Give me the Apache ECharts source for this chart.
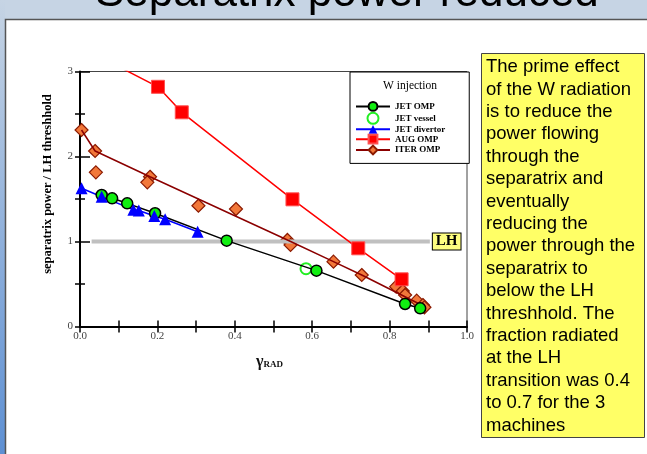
<!DOCTYPE html>
<html>
<head>
<meta charset="utf-8">
<title>Separatrix power reduced</title>
<script src="https://cdn.jsdelivr.net/npm/echarts@6/dist/echarts.min.js"></script>
<style>
html,body{margin:0;padding:0;background:#fff}
#chart{width:647px;height:454px}
</style>
</head>
<body>
<div id="chart"></div>
<script>
// values (x = gamma_RAD, y = separatrix power / LH threshold)
var augX = [0.0, 0.2015, 0.263, 0.549, 0.719, 0.831];
var augY = [3.29, 2.82, 2.52, 1.496, 0.92, 0.555];

var jetOmpX = [0.056, 0.083, 0.122, 0.194, 0.379, 0.611, 0.840, 0.879];
var jetOmpY = [1.547, 1.508, 1.449, 1.332, 1.01, 0.657, 0.265, 0.214];

var jetVesselX = [0.584];
var jetVesselY = [0.68];

var jetDivX = [0.004, 0.056, 0.138, 0.152, 0.192, 0.220, 0.304];
var jetDivY = [1.626, 1.527, 1.375, 1.365, 1.30, 1.261, 1.115];

var iterX = [0.004, 0.039, 0.041, 0.181, 0.174, 0.306, 0.403, 0.536, 0.544, 0.655, 0.728, 0.817, 0.834, 0.840, 0.870, 0.886, 0.890];
var iterY = [2.312, 2.065, 1.814, 1.762, 1.696, 1.421, 1.382, 1.018, 0.959, 0.763, 0.606, 0.469, 0.418, 0.371, 0.304, 0.253, 0.226];

// ITER trend line
var iterFitX = [0.004, 0.039, 0.181, 0.536, 0.655, 0.728, 0.89];
var iterFitY = [2.312, 2.065, 1.762, 1.018, 0.763, 0.606, 0.235];

// LH threshold line
var lhX = [0.03, 0.904];
var lhY = [1, 1];

var legendNames = ['JET OMP', 'JET vessel', 'JET divertor', 'AUG OMP', 'ITER OMP'];
var xTickLabels = ['0.0', '0.2', '0.4', '0.6', '0.8', '1.0'];
var yTickLabels = ['0', '1', '2', '3'];

var slideTitle = 'Separatrix power reduced';
var noteLines = [
    'The prime effect',
    'of the W radiation',
    'is to reduce the',
    'power flowing',
    'through the',
    'separatrix and',
    'eventually',
    'reducing the',
    'power through the',
    'separatrix to',
    'below the LH',
    'threshhold. The',
    'fraction radiated',
    'at the LH',
    'transition was 0.4',
    'to 0.7 for the 3',
    'machines'
];

function pairs(xs, ys) {
    var out = [];
    for (var i = 0; i < xs.length; i++) {
        out.push([xs[i], ys[i]]);
    }
    return out;
}

var serif = 'Liberation Serif, Times New Roman, serif';
var sans = 'Liberation Sans, Arial, sans-serif';

var myChart = echarts.init(document.getElementById('chart'));
var option = {
    animation: false,
    backgroundColor: '#ffffff',
    graphic: [
        {
            type: 'rect', z: -10, silent: true,
            shape: {x: 0, y: 0, width: 647, height: 19},
            style: {fill: '#c6d4e4'}
        },
        {
            type: 'rect', z: -10, silent: true,
            shape: {x: 0, y: 0, width: 5, height: 454},
            style: {
                fill: new echarts.graphic.LinearGradient(0, 0, 0, 1, [
                    {offset: 0, color: '#c6d4e4'},
                    {offset: 1, color: '#5e90d3'}
                ])
            }
        },
        {
            type: 'polyline', z: -9, silent: true,
            shape: {points: [[5.5, 454], [5.5, 19.5], [647, 19.5]]},
            style: {stroke: '#555', lineWidth: 1.5, fill: null}
        },
        {
            type: 'text', silent: true,
            x: 95, y: -6,
            style: {
                text: slideTitle,
                font: '44px ' + sans,
                fill: '#000',
                verticalAlign: 'middle'
            }
        },
        {
            type: 'rect', silent: true,
            shape: {x: 481.5, y: 53.5, width: 163, height: 384},
            style: {fill: '#ffff66', stroke: '#444', lineWidth: 1}
        },
        {
            type: 'text', silent: true,
            x: 486, y: 56,
            style: {
                text: noteLines.join('\n'),
                font: '18.5px ' + sans,
                lineHeight: 22.4,
                fill: '#000',
                verticalAlign: 'top'
            }
        },
        {
            type: 'text', silent: true, z: 10,
            x: 410, y: 86,
            style: {
                text: 'W injection',
                font: '11.5px ' + serif,
                fill: '#000',
                align: 'center',
                verticalAlign: 'middle'
            }
        }
    ],
    legend: {
        data: legendNames,
        orient: 'vertical',
        left: 350,
        top: 72,
        itemWidth: 34,
        itemHeight: 11,
        itemGap: 0,
        padding: [29, 24, 8, 5],
        backgroundColor: '#fff',
        borderColor: '#000',
        borderWidth: 1,
        selectedMode: false,
        textStyle: {fontFamily: serif, fontWeight: 'bold', fontSize: 9, color: '#000'}
    },
    grid: {
        left: 80,
        right: 180,
        top: 71.5,
        bottom: 127.5,
        show: true,
        borderColor: '#444',
        borderWidth: 1
    },
    xAxis: [
        {
            type: 'value', min: 0, max: 1, interval: 0.1, position: 'bottom',
            axisLine: {lineStyle: {color: '#000', width: 2}},
            axisTick: {inside: false, length: 6, lineStyle: {color: '#000', width: 1.5}},
            axisLabel: {
                margin: 4, fontFamily: serif, fontSize: 11, color: '#444',
                formatter: function (v) {
                    var k = Math.round(v * 10);
                    return k % 2 === 0 ? xTickLabels[k / 2] : '';
                }
            },
            splitLine: {show: false},
            name: '{g|γ}{s|RAD}',
            nameLocation: 'middle',
            nameGap: 26,
            nameTextStyle: {
                padding: [0, 8, 0, 0],
                rich: {
                    g: {fontFamily: serif, fontWeight: 'bold', fontSize: 16, color: '#111', lineHeight: 18},
                    s: {fontFamily: serif, fontWeight: 'bold', fontSize: 9, color: '#111', lineHeight: 18, padding: [7, 0, 0, 0]}
                }
            }
        },
        {
            type: 'value', min: 0, max: 1, interval: 0.1, position: 'bottom',
            axisLine: {show: false},
            axisTick: {inside: true, length: 6, lineStyle: {color: '#000', width: 1.5}},
            axisLabel: {show: false},
            splitLine: {show: false}
        }
    ],
    yAxis: [
        {
            type: 'value', min: 0, max: 3, interval: 0.5, position: 'left',
            axisLine: {show: true, lineStyle: {color: '#000', width: 2}},
            axisTick: {show: true, inside: false, length: 5, lineStyle: {color: '#000', width: 1.5}},
            axisLabel: {
                margin: 7, fontFamily: serif, fontSize: 11, color: '#444',
                formatter: function (v) {
                    return Number.isInteger(v) ? yTickLabels[v] : '';
                }
            },
            splitLine: {show: false},
            name: 'separatrix power / LH threshhold',
            nameLocation: 'middle',
            nameGap: 26,
            nameTextStyle: {fontFamily: serif, fontWeight: 'bold', fontSize: 12.5, color: '#000', padding: [0, 0, 0, 30]}
        },
        {
            type: 'value', min: 0, max: 3, interval: 0.5, position: 'left',
            axisLine: {show: false},
            axisTick: {show: true, inside: true, length: 5, lineStyle: {color: '#000', width: 1.5}},
            axisLabel: {show: false},
            splitLine: {show: false}
        },
        {
            type: 'value', min: 0, max: 3, interval: 1, position: 'left',
            axisLine: {show: false},
            axisTick: {show: true, inside: true, length: 10, lineStyle: {color: '#000', width: 1.5}},
            axisLabel: {show: false},
            splitLine: {show: false}
        }
    ],
    series: [
        {
            name: 'LH',
            type: 'line',
            data: pairs(lhX, lhY),
            symbol: 'none',
            silent: true,
            lineStyle: {color: '#c0c0c0', width: 4},
            endLabel: {
                show: true, formatter: 'LH', distance: 3,
                backgroundColor: '#ffff80', borderColor: '#000', borderWidth: 1,
                padding: [1, 3, 0, 3],
                fontFamily: serif, fontWeight: 'bold', fontSize: 15, color: '#000'
            }
        },
        {
            name: 'ITER OMP',
            type: 'line',
            data: pairs(iterFitX, iterFitY),
            symbol: 'diamond',
            showSymbol: false,
            lineStyle: {color: '#8b0000', width: 1.5},
            itemStyle: {color: '#f2783a', borderColor: '#8b1a00', borderWidth: 1}
        },
        {
            name: 'ITER points',
            type: 'scatter',
            data: pairs(iterX, iterY),
            symbol: 'diamond',
            symbolSize: 13,
            itemStyle: {color: '#f2783a', borderColor: '#8b1a00', borderWidth: 1.2, opacity: 1}
        },
        {
            name: 'AUG OMP',
            type: 'line',
            data: pairs(augX, augY),
            symbol: 'rect',
            symbolSize: 13,
            lineStyle: {color: '#ff0000', width: 1.5},
            itemStyle: {color: '#ff0000', borderColor: '#ff5050', borderWidth: 1}
        },
        {
            name: 'JET OMP',
            type: 'line',
            data: pairs(jetOmpX, jetOmpY),
            symbol: 'circle',
            symbolSize: 11,
            lineStyle: {color: '#000', width: 1.5},
            itemStyle: {color: '#11ee11', borderColor: '#000', borderWidth: 1.5}
        },
        {
            name: 'JET vessel',
            type: 'scatter',
            data: pairs(jetVesselX, jetVesselY),
            symbol: 'circle',
            symbolSize: 11,
            itemStyle: {color: '#fff', borderColor: '#22ee22', borderWidth: 2, opacity: 1}
        },
        {
            name: 'JET divertor',
            type: 'line',
            data: pairs(jetDivX, jetDivY),
            symbol: 'triangle',
            symbolSize: 12,
            lineStyle: {color: '#0000ff', width: 1.5},
            itemStyle: {color: '#0000ff'}
        }
    ]
};
myChart.setOption(option);
</script>
</body>
</html>
